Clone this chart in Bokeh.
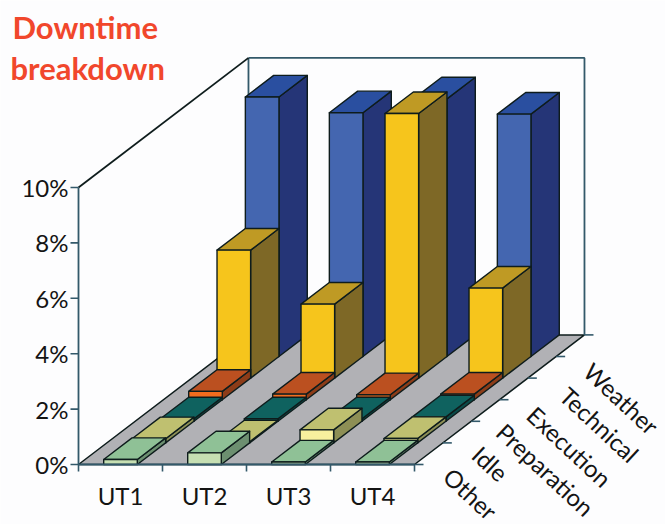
from bokeh.core.properties import value
from bokeh.embed import file_html
from bokeh.models import ColumnDataSource, Range1d
from bokeh.plotting import figure
from bokeh.resources import INLINE

units = ["UT1", "UT2", "UT3", "UT4"]
causes = ["Other", "Idle", "Preparation", "Execution", "Technical", "Weather"]
pct_ticks = [0, 2, 4, 6, 8, 10]
pct_labels = ["0%", "2%", "4%", "6%", "8%", "10%"]

other = [0.18, 0.42, 0.09, 0.09]
idle = [0.15, 0.04, 0.47, 0.16]
preparation = [0.09, 0.09, 0.09, 0.16]
execution = [0.30, 0.20, 0.18, 0.20]
technical = [4.62, 2.67, 9.55, 3.25]
weather = [9.37, 8.80, 9.30, 8.75]
series = [other, idle, preparation, execution, technical, weather]

# (front, top, side) shades per cause
shades = [
    ("#c6dfb2", "#8fc196", "#6c8f70"),
    ("#f7ef9e", "#bfc070", "#8d8f55"),
    ("#0f7570", "#0f625f", "#0a4a48"),
    ("#f26c1e", "#bb5020", "#8c3c18"),
    ("#f6c51c", "#bf9a24", "#7e6826"),
    ("#4466b0", "#2a4fa0", "#253577"),
]
INK = "#0e1c1c"
WALL = "#33596a"

# Pixel scales of the oblique view; one data unit on x is one UT slot,
# one data unit on y is one percent.
PX_X, PX_Y = 84.0, 27.7
LEFT_PX, BASE_PX = 78.0, 464.0
W, H = 665, 524
DX = 28.33 / PX_X   # one cause row, sideways
DY = 21.6 / PX_Y    # one cause row, upwards
GAP, BAR = 0.30, 0.40


def project(u, row, pct):
    return u + row * DX, pct + row * DY


p = figure(
    width=W, height=H, output_backend="svg", toolbar_location=None,
    x_range=Range1d(-LEFT_PX / PX_X, (W - LEFT_PX) / PX_X),
    y_range=Range1d(-(H - BASE_PX) / PX_Y, BASE_PX / PX_Y),
    min_border=0, background_fill_color="#fdfdfe", border_fill_color="#fdfdfe",
)
p.axis.visible = False
p.grid.visible = False
p.outline_line_color = None

n_u, n_r = len(units), len(causes)

# floor
corners = [project(0, 0, 0), project(n_u, 0, 0), project(n_u, n_r, 0), project(0, n_r, 0)]
p.patch([c[0] for c in corners], [c[1] for c in corners],
        fill_color="#b1b1b5", line_color=INK, line_width=1.5)

# walls
back_l = project(0, n_r, 10)
back_r = project(n_u, n_r, 10)
floor_r = project(n_u, n_r, 0)
floor_l = project(0, n_r, 0)
p.line([back_l[0], back_r[0], floor_r[0]], [back_l[1], back_r[1], floor_r[1]],
       line_color=WALL, line_width=1.8)
p.line([floor_l[0], back_l[0]], [floor_l[1], back_l[1]], line_color=WALL, line_width=1.8)
p.line([0, back_l[0]], [10, back_l[1]], line_color=INK, line_width=1.8)
p.line([0, 0], [0, 10], line_color=WALL, line_width=1.8)

# bars, painted from the back row forwards
faces = dict(xs=[], ys=[], color=[])
for row in range(n_r - 1, -1, -1):
    front, top, side = shades[row]
    for u in range(n_u):
        h = series[row][u]
        x0, x1 = u + GAP, u + GAP + BAR
        a = project(x0, row, 0)
        b = project(x1, row, 0)
        c = project(x1, row, h)
        d = project(x0, row, h)
        e = project(x1, row + 1, h)
        f = project(x0, row + 1, h)
        g = project(x1, row + 1, 0)
        for pts, col in (((b, g, e, c), side), ((d, c, e, f), top), ((a, b, c, d), front)):
            faces["xs"].append([q[0] for q in pts])
            faces["ys"].append([q[1] for q in pts])
            faces["color"].append(col)
p.patches("xs", "ys", source=ColumnDataSource(faces), fill_color="color",
          line_color=INK, line_width=1.4, line_join="round")

# value axis
p.segment(x0=[-8 / PX_X] * len(pct_ticks), x1=[0] * len(pct_ticks),
          y0=pct_ticks, y1=pct_ticks, line_color=WALL, line_width=1.6)
p.text(x=[-10 / PX_X] * len(pct_ticks), y=pct_ticks, text=pct_labels,
       text_font=value("Lato"), text_font_size="24px", text_color="#141414",
       text_align="right", text_baseline="middle")

# unit axis
u_ticks = list(range(n_u + 1))
p.line([0, n_u], [0, 0], line_color=WALL, line_width=1.8)
p.segment(x0=u_ticks, x1=u_ticks, y0=[0] * len(u_ticks), y1=[-7 / PX_Y] * len(u_ticks),
          line_color=WALL, line_width=1.6)
p.text(x=[u + 0.5 for u in range(n_u)], y=[-31 / PX_Y] * n_u, text=units,
       text_font=value("Lato"), text_font_size="24px", text_color="#141414",
       text_align="center", text_baseline="middle")

# cause axis, running along the right edge of the floor
for row in range(n_r + 1):
    tx, ty = project(n_u, row, 0)
    p.line([tx, tx + 9 / PX_X], [ty, ty], line_color=WALL, line_width=1.6)

label_dx = [56, 76, 131, 155, 185, 207]
label_dy = [-29, 1, -5, 18, 40, 66]
for row, name in enumerate(causes):
    tx, ty = project(n_u, 0, 0)
    p.text(x=[tx + label_dx[row] / PX_X], y=[ty + label_dy[row] / PX_Y], text=[name],
           text_font=value("Lato"), text_font_size="24px", text_color="#141414",
           text_align="center", text_baseline="middle", angle=-0.75)

# heading
title_lines = ["Downtime", "breakdown"]
title_y = [15.8, 14.3]
p.text(x=[-66 / PX_X, -68 / PX_X], y=title_y, text=title_lines,
       text_font=value("Lato"), text_font_size="31px", text_font_style="bold",
       text_color="#f1472c", text_align="left", text_baseline="middle")

open("out.html", "w").write(file_html(p, INLINE))
